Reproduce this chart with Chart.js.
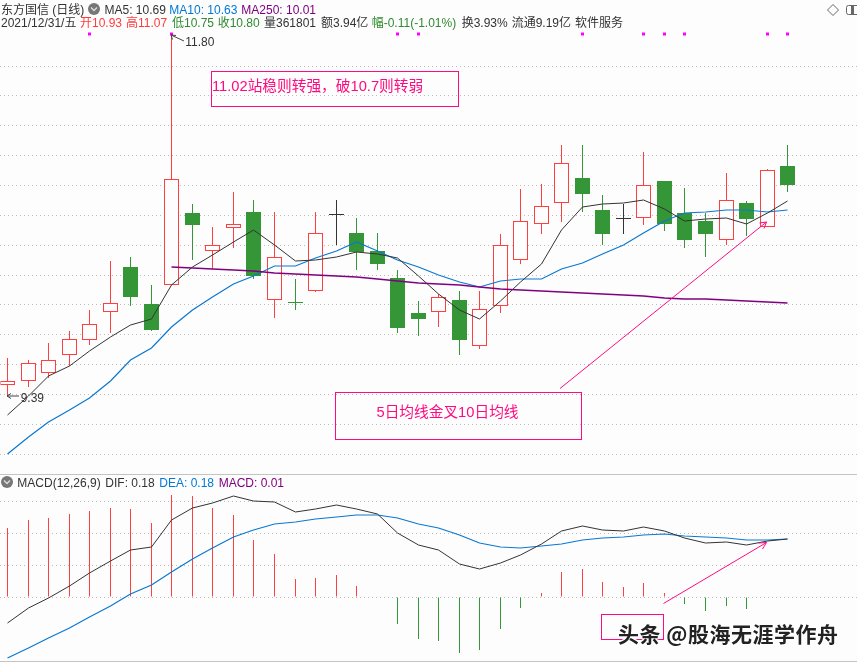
<!DOCTYPE html>
<html lang="zh">
<head>
<meta charset="utf-8">
<title>东方国信 (日线)</title>
<script src="https://cdn.jsdelivr.net/npm/chart.js@4/dist/chart.umd.min.js"></script>
<style>
html,body{margin:0;padding:0;background:#fdfdfd;}
#wrap{position:relative;width:857px;height:662px;overflow:hidden;background:#fdfdfd;font:12px "Liberation Sans","Noto Sans CJK SC",sans-serif;color:#333;}
#wrap canvas{position:absolute;left:0;top:0;}
svg{position:absolute;left:0;top:0;}
.t{position:absolute;white-space:nowrap;line-height:14px;height:14px;}
.r{color:#ff3c3c}.g{color:#2e8b2e}.b{color:#0078d7}.p{color:#800080}
.box{position:absolute;border:1px solid #ff0a80;box-sizing:border-box;}
.note{position:absolute;white-space:nowrap;color:#ff0a80;font-size:14.7px;line-height:16px;}
.rule{position:absolute;left:0;width:857px;height:1px;background:#c4c4c4;}
.mark{position:absolute;white-space:nowrap;font-family:"Noto Sans CJK SC",sans-serif;font-weight:700;font-size:21px;letter-spacing:.5px;line-height:24px;color:#222;text-shadow:1px 1px 0 #fff,-1px -1px 0 #fff,1px -1px 0 #fff,-1px 1px 0 #fff;}
</style>
</head>
<body>
<div id="wrap">
<canvas id="c" width="857" height="662"></canvas>
<div class="rule" style="top:474px"></div>
<div class="rule" style="top:661px"></div>
<svg width="857" height="662" viewBox="0 0 857 662">
  <circle cx="94" cy="9" r="6" fill="#777"/><path d="M91 7.5l3 3 3-3" fill="none" stroke="#ddd" stroke-width="1.4"/>
  <circle cx="7" cy="482" r="6" fill="#777"/><path d="M4 480.5l3 3 3-3" fill="none" stroke="#ddd" stroke-width="1.4"/>
  <path d="M833 4.5l5.5 5.5-5.5 5.5-5.5-5.5z" fill="none" stroke="#666"/>
  <rect x="846.5" y="5.5" width="14" height="9" rx="2" fill="none" stroke="#666"/><rect x="851" y="6" width="3" height="8" fill="#666"/>
  <path d="M171 35L184 41M171 35l5 .5M171 35l1.5 4.5" fill="none" stroke="#444"/>
  <path d="M7 396H19M7 396l4-2.5M7 396l4 2.5" fill="none" stroke="#444"/>
  <path d="M560 388.5L766.5 222M766.5 222l-7 1M766.5 222l-2.5 6.5" fill="none" stroke="#ff0a80"/>
  <path d="M663.5 603.5L766.5 542.5M766.5 542.5l-8 .5M766.5 542.5l-4 6.5" fill="none" stroke="#ff0a80"/>
</svg>
<div class="t" style="left:1px;top:3px">东方国信 (日线)</div>
<div class="t" style="left:104.5px;top:3px">MA5: 10.69</div>
<div class="t b" style="left:169.3px;top:3px">MA10: 10.63</div>
<div class="t p" style="left:241.3px;top:3px">MA250: 10.01</div>
<div class="t" style="left:1px;top:16px">2021/12/31/五</div>
<div class="t r" style="left:80px;top:16px">开10.93</div>
<div class="t r" style="left:126px;top:16px">高11.07</div>
<div class="t g" style="left:172px;top:16px">低10.75</div>
<div class="t g" style="left:217.7px;top:16px">收10.80</div>
<div class="t" style="left:264px;top:16px">量361801</div>
<div class="t" style="left:321px;top:16px">额3.94亿</div>
<div class="t g" style="left:371.7px;top:16px">幅-0.11(-1.01%)</div>
<div class="t" style="left:461.7px;top:16px">换3.93%</div>
<div class="t" style="left:511.7px;top:16px">流通9.19亿</div>
<div class="t" style="left:575px;top:16px">软件服务</div>
<div class="t" style="left:185.3px;top:34.5px">11.80</div>
<div class="t" style="left:20.7px;top:390.5px">9.39</div>
<div class="t" style="left:17.3px;top:475.5px">MACD(12,26,9)</div>
<div class="t" style="left:105.3px;top:475.5px">DIF: 0.18</div>
<div class="t b" style="left:159.3px;top:475.5px">DEA: 0.18</div>
<div class="t p" style="left:218.7px;top:475.5px">MACD: 0.01</div>
<div class="box" style="left:211px;top:71px;width:248px;height:36px"></div>
<div class="note" style="left:212px;top:78px">11.02站稳则转强，破10.7则转弱</div>
<div class="box" style="left:335px;top:392px;width:247px;height:48px"></div>
<div class="note" style="left:376.5px;top:404px">5日均线金叉10日均线</div>
<div class="box" style="left:601px;top:614px;width:63px;height:26px"></div>
<div class="mark" style="left:618px;top:620.5px">头条 @股海无涯学作舟</div>
</div>
<script>
const days = [0,1,2,3,4,5,6,7,8,9,10,11,12,13,14,15,16,17,18,19,20,21,22,23,24,25,26,27,28,29,30,31,32,33,34,35,36,37,38];
const opens  = [9.46,9.49,9.54,9.66,9.76,9.95,10.25,10.00,10.13,10.61,10.36,10.51,10.62,10.03,10.015,10.09,10.60,10.48,10.36,10.18,9.94,9.95,10.03,9.72,9.99,10.30,10.54,10.68,10.85,10.63,10.57,10.58,10.83,10.61,10.56,10.43,10.68,10.52,10.93];
const closes = [9.49,9.61,9.63,9.77,9.87,10.01,10.05,9.83,10.84,10.53,10.40,10.54,10.19,10.32,10.01,10.48,10.60,10.35,10.27,9.84,9.90,10.05,9.76,9.97,10.40,10.56,10.66,10.95,10.74,10.47,10.57,10.80,10.54,10.43,10.47,10.70,10.57,10.90,10.80];
const highs  = [9.64,9.63,9.74,9.82,9.96,10.29,10.32,10.13,11.80,10.67,10.52,10.75,10.70,10.62,10.17,10.62,10.70,10.58,10.48,10.23,10.02,10.07,10.09,10.09,10.47,10.77,10.81,11.07,11.07,10.73,10.67,11.02,10.83,10.78,10.61,10.88,10.69,10.91,11.07];
const lows   = [9.39,9.45,9.51,9.59,9.73,9.81,9.99,9.82,10.13,10.30,10.24,10.38,10.17,9.91,9.96,10.08,10.40,10.23,10.23,9.81,9.79,9.85,9.66,9.70,9.94,10.27,10.47,10.55,10.62,10.40,10.47,10.53,10.49,10.38,10.32,10.40,10.46,10.52,10.75];
const ma5    = [9.26,9.39,9.52,9.59,9.69,9.78,9.86,9.90,10.13,10.25,10.33,10.42,10.50,10.40,10.29,10.30,10.32,10.35,10.34,10.31,10.19,10.07,9.96,9.90,10.02,10.15,10.27,10.50,10.65,10.67,10.68,10.70,10.64,10.56,10.57,10.58,10.54,10.61,10.69];
const ma10   = [9.00,9.11,9.21,9.29,9.37,9.49,9.63,9.71,9.85,9.96,10.05,10.14,10.19,10.26,10.26,10.31,10.36,10.42,10.36,10.30,10.25,10.20,10.15,10.12,10.16,10.17,10.17,10.24,10.28,10.34,10.40,10.48,10.56,10.61,10.62,10.63,10.63,10.62,10.63];
const ma250Start = 8;
const ma250  = [10.249,10.242,10.235,10.228,10.222,10.213,10.202,10.195,10.188,10.182,10.168,10.155,10.146,10.137,10.128,10.119,10.106,10.097,10.088,10.081,10.074,10.068,10.061,10.054,10.045,10.039,10.034,10.028,10.021,10.014,10.01];
const signalDays = [4,8,19,20,28,31,32,33,37,38];
const signalLevel = 11.81;
const priceGrid = [11.6,11.4,11.2,11.0,10.8,10.6,10.4,10.2,10.0,9.8,9.6,9.4,9.2,9.0];
const macdHist = [0.217,0.242,0.248,0.261,0.270,0.280,0.277,0.233,0.320,0.317,0.280,0.258,0.180,0.136,0.058,0.061,0.070,0.036,0,-0.083,-0.130,-0.135,-0.172,-0.163,-0.097,-0.032,0.014,0.080,0.089,0.048,0.033,0.045,0.014,-0.019,-0.041,-0.026,-0.035,0,0.003];
const dif = [-0.081,-0.034,-0.003,0.037,0.076,0.114,0.149,0.158,0.242,0.279,0.296,0.316,0.302,0.297,0.266,0.277,0.288,0.278,0.260,0.203,0.164,0.148,0.105,0.088,0.109,0.134,0.166,0.208,0.222,0.211,0.207,0.219,0.207,0.186,0.169,0.172,0.163,0.177,0.184];
const dea = [-0.190,-0.158,-0.128,-0.096,-0.060,-0.026,0.010,0.039,0.079,0.120,0.155,0.189,0.211,0.229,0.235,0.244,0.252,0.257,0.258,0.247,0.229,0.216,0.194,0.169,0.157,0.154,0.160,0.167,0.179,0.187,0.189,0.195,0.198,0.192,0.188,0.186,0.181,0.181,0.183];
const macdGrid = [0.3,0.2,0.1,0];

const RED='#ff4040', GREEN='#359637', DARK='#333333', BLUE='#0a78d2', PURPLE='#800080', PAPER='#fdfdfd';
const candleColor = i => closes[i]>opens[i] ? RED : closes[i]<opens[i] ? GREEN : DARK;
const pts = (vals,start=0) => vals.map((y,k)=>({x:days[start+k],y}));
const bodyRange = i => { const a=Math.min(opens[i],closes[i]), b=Math.max(opens[i],closes[i]); return [a,Math.max(b,a+0.0067)]; };
const bar = (extra) => Object.assign({type:'bar',grouped:false,barPercentage:1,categoryPercentage:1,borderSkipped:false,inflateAmount:0,xAxisID:'x'},extra);
const line = (extra) => Object.assign({type:'line',pointRadius:0,tension:0,borderWidth:1,fill:false,xAxisID:'x'},extra);
const upDays = days.filter(i=>closes[i]>opens[i]);
const otherDays = days.filter(i=>closes[i]<=opens[i]);

const sharedAxis = (lo,hi,ticks) => ({
  type:'linear',min:lo,max:hi,position:'left',alignToPixels:true,
  grid:{color:'#bdbdbd',lineWidth:1,drawTicks:false},
  border:{display:false,dash:[1,3]},
  ticks:{display:false,autoSkip:false},
  afterBuildTicks:a=>{a.ticks=ticks.map(v=>({value:v}));}
});

const pixelCentres = {
  id:'pixelCentres',
  beforeDatasetsDraw(c){c.ctx.save();c.ctx.translate(0.5,0);},
  afterDatasetsDraw(c){c.ctx.restore();}
};

new Chart(document.getElementById('c'),{
  plugins:[pixelCentres],
  data:{datasets:[
    line({label:'MA5',yAxisID:'y',data:pts(ma5),borderColor:DARK,order:2}),
    line({label:'MA10',yAxisID:'y',data:pts(ma10),borderColor:BLUE,borderWidth:1.2,order:3}),
    line({label:'MA250',yAxisID:'y',data:pts(ma250,ma250Start),borderColor:PURPLE,borderWidth:1.3,order:1}),
    line({label:'signals',yAxisID:'y',showLine:false,pointStyle:'rect',pointRadius:2.13,pointBackgroundColor:'#ff00ff',pointBorderWidth:0,data:signalDays.map(i=>({x:i,y:signalLevel})),order:1}),
    bar({label:'up bodies',yAxisID:'y',data:upDays.map(i=>({x:i,y:bodyRange(i)})),backgroundColor:PAPER,borderColor:RED,borderWidth:1,barThickness:15,maxBarThickness:15,order:5}),
    bar({label:'flat and down bodies',yAxisID:'y',data:otherDays.map(i=>({x:i,y:bodyRange(i)})),backgroundColor:otherDays.map(candleColor),barThickness:15,maxBarThickness:15,order:5}),
    bar({label:'wicks',yAxisID:'y',data:days.map(i=>({x:i,y:[lows[i],highs[i]]})),backgroundColor:days.map(candleColor),barThickness:1,maxBarThickness:1,order:6}),
    line({label:'DIF',yAxisID:'y2',data:pts(dif),borderColor:DARK,order:2}),
    line({label:'DEA',yAxisID:'y2',data:pts(dea),borderColor:BLUE,borderWidth:1.2,order:3}),
    bar({label:'MACD',yAxisID:'y2',data:days.map(i=>({x:i,y:macdHist[i]})),backgroundColor:macdHist.map(v=>v>=0?RED:GREEN),barThickness:1,maxBarThickness:1,order:6})
  ]},
  options:{
    responsive:false,animation:false,devicePixelRatio:1,
    layout:{padding:0,autoPadding:false},
    plugins:{legend:{display:false},tooltip:{enabled:false},title:{display:false}},
    scales:{
      x:{type:'linear',display:false,offset:false,grid:{offset:false},alignToPixels:true,min:-0.34884,max:41.4052},
      y:sharedAxis(7.605,12.0391,priceGrid),
      y2:sharedAxis(-0.2016,1.8672,macdGrid)
    }
  }
});
</script>
</body>
</html>
